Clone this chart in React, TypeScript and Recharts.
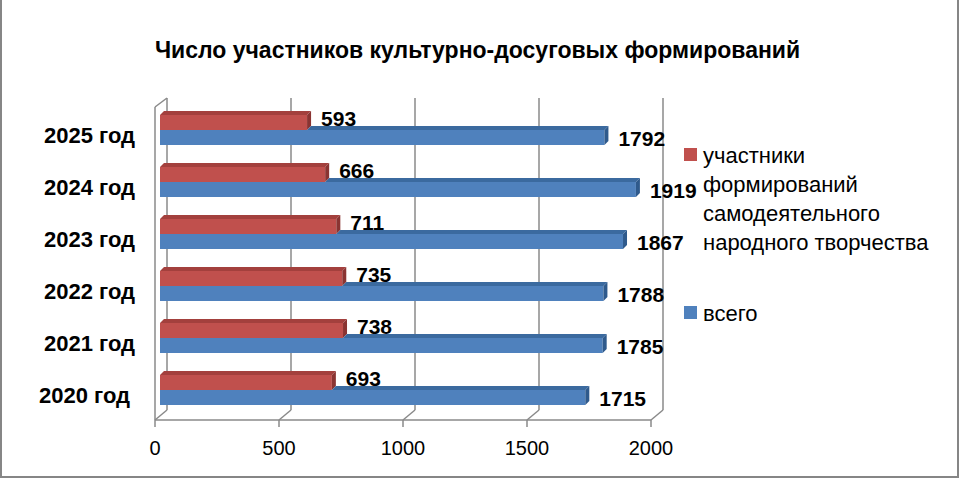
import React from 'react';
import { BarChart, Bar, XAxis, YAxis, CartesianGrid, LabelList } from 'recharts';

const years = ['2020 год', '2021 год', '2022 год', '2023 год', '2024 год', '2025 год'];
const participants = [693, 738, 735, 711, 666, 593];
const totals = [1715, 1785, 1788, 1867, 1919, 1792];
const xTicks = [0, 500, 1000, 1500, 2000];
const titleText = 'Число участников культурно-досуговых формирований';
const partLegend = ['участники', 'формирований', 'самодеятельного', 'народного творчества'];
const totalLegend = 'всего';

const data = years.map((year, i) => ({ year, part: participants[i], total: totals[i] }));

const FONT = '"Liberation Sans", Arial, sans-serif';
const GRID = '#8a8a8a';
const D = 4;
const RED = '#C0504D';
const RED_TOP = '#A3403D';
const RED_SIDE = '#8A3432';
const BLUE = '#4F81BD';
const BLUE_TOP = '#3B6A9F';
const BLUE_SIDE = '#2F5A8C';

const BACK_DX = 7;
const FRONT_DX = -5;
const WALL_TOP = 98;
const BACK_FLOOR = 410;
const FRONT_FLOOR = 420;

function RedShape(props: any) {
  const { x, y, width, height } = props;
  const w = Math.max(width, 0);
  return (
    <g>
      <rect x={x} y={y} width={w} height={height} fill={RED} />
      <polygon points={`${x},${y} ${x + w},${y} ${x + w + D},${y - D} ${x + D},${y - D}`} fill={RED_TOP} />
      <polygon
        points={`${x + w},${y} ${x + w + D},${y - D} ${x + w + D},${y + height - D} ${x + w},${y + height}`}
        fill={RED_SIDE}
      />
    </g>
  );
}

function BlueShape(props: any) {
  const { x, y, width, height, payload } = props;
  const w = Math.max(width, 0);
  const rw = payload && payload.total ? (w * payload.part) / payload.total : 0;
  return (
    <g>
      <rect x={x} y={y} width={w} height={height} fill={BLUE} />
      <polygon points={`${x + rw},${y} ${x + w},${y} ${x + w + D},${y - D} ${x + rw + D},${y - D}`} fill={BLUE_TOP} />
      <polygon
        points={`${x + w},${y} ${x + w + D},${y - D} ${x + w + D},${y + height - D} ${x + w},${y + height}`}
        fill={BLUE_SIDE}
      />
    </g>
  );
}

function RedLabel(props: any) {
  const { x, y, width, value } = props;
  return (
    <text x={x + width + 14} y={y + 3} dominantBaseline="central" fontFamily={FONT} fontWeight="bold" fontSize={21} fill="#000">
      {value}
    </text>
  );
}

function BlueLabel(props: any) {
  const { x, y, width, value } = props;
  return (
    <text x={x + width + 14} y={y + 8} dominantBaseline="central" fontFamily={FONT} fontWeight="bold" fontSize={21} fill="#000">
      {value}
    </text>
  );
}

function XTick(props: any) {
  const { x, payload, width } = props;
  const fx = x + FRONT_DX;
  const bx = x + BACK_DX;
  const pw = typeof width === 'number' && width > 0 ? width : 496;
  return (
    <g>
      <line x1={bx} y1={BACK_FLOOR} x2={fx} y2={FRONT_FLOOR} stroke={GRID} strokeWidth={1.5} />
      <line x1={fx} y1={FRONT_FLOOR} x2={fx} y2={FRONT_FLOOR + 7} stroke={GRID} strokeWidth={1.5} />
      {payload.value === 0 && (
        <g>
          <line x1={fx} y1={FRONT_FLOOR} x2={fx + pw} y2={FRONT_FLOOR} stroke={GRID} strokeWidth={1.5} />
          <line x1={fx} y1={WALL_TOP + 9} x2={fx} y2={FRONT_FLOOR} stroke={GRID} strokeWidth={1.5} />
          <line x1={fx} y1={WALL_TOP + 9} x2={bx} y2={WALL_TOP} stroke={GRID} strokeWidth={1.5} />
        </g>
      )}
      <text x={fx} y={448} textAnchor="middle" dominantBaseline="central" fontFamily={FONT} fontSize={20} fill="#000">
        {payload.value}
      </text>
    </g>
  );
}

function YTick(props: any) {
  const { y, payload, index } = props;
  const shift = index === 0 ? -5 : 0;
  return (
    <text x={135 + shift} y={y + 5} textAnchor="end" dominantBaseline="central" fontFamily={FONT} fontWeight="bold" fontSize={22} fill="#000">
      {payload.value}
    </text>
  );
}

function GridLine(props: any) {
  const { x1 } = props;
  return <line x1={x1 + BACK_DX} y1={WALL_TOP} x2={x1 + BACK_DX} y2={BACK_FLOOR} stroke={GRID} strokeWidth={1.5} />;
}

export default function App() {
  return (
    <div style={{ position: 'absolute', left: 0, top: 0, width: 960, height: 480, background: '#fff', overflow: 'hidden' }}>
      <BarChart
        width={960}
        height={480}
        data={data}
        layout="vertical"
        margin={{ top: 104, right: 304, bottom: 24, left: 10 }}
        barCategoryGap={11}
        barGap={0}
      >
        <CartesianGrid horizontal={false} vertical={GridLine} />
        <XAxis
          type="number"
          domain={[0, 2000]}
          ticks={xTicks}
          axisLine={false}
          tickLine={false}
          tick={XTick}
          height={40}
          interval={0}
        />
        <YAxis
          type="category"
          dataKey="year"
          reversed
          width={150}
          axisLine={false}
          tickLine={false}
          tick={YTick}
          interval={0}
        />
        <Bar dataKey="part" name={partLegend.join(' ')} barSize={15} shape={RedShape} isAnimationActive={false}>
          <LabelList dataKey="part" content={RedLabel} />
        </Bar>
        <Bar dataKey="total" name={totalLegend} barSize={15} shape={BlueShape} isAnimationActive={false}>
          <LabelList dataKey="total" content={BlueLabel} />
        </Bar>
      </BarChart>
      <div
        style={{
          position: 'absolute',
          left: 0,
          top: 37,
          width: 955,
          textAlign: 'center',
          fontFamily: FONT,
          fontWeight: 'bold',
          fontSize: 23,
          lineHeight: '26px',
          color: '#000',
        }}
      >
        {titleText}
      </div>
      <svg style={{ position: 'absolute', left: 0, top: 0 }} width={960} height={480} pointerEvents="none">
        <rect x={684} y={148} width={13} height={13} fill={RED} />
        {partLegend.map((t, i) => (
          <text key={t} x={703} y={155 + i * 29} dominantBaseline="central" fontFamily={FONT} fontSize={22} fill="#000">
            {t}
          </text>
        ))}
        <rect x={684} y={306} width={13} height={13} fill={BLUE} />
        <text x={703} y={313} dominantBaseline="central" fontFamily={FONT} fontSize={22} fill="#000">
          {totalLegend}
        </text>
        <line x1={1} y1={0} x2={1} y2={477} stroke="#868686" strokeWidth={2} />
        <line x1={958} y1={0} x2={958} y2={477} stroke="#868686" strokeWidth={2} />
        <line x1={0} y1={477} x2={959} y2={477} stroke="#868686" strokeWidth={2} />
      </svg>
    </div>
  );
}
